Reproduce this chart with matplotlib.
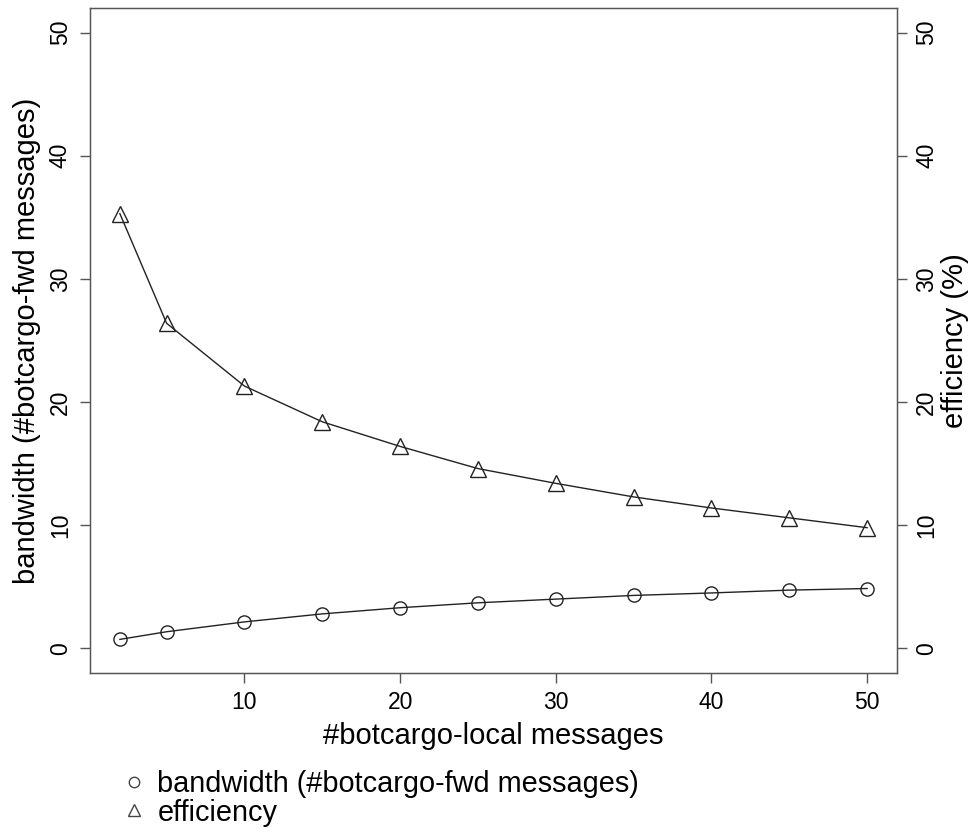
import matplotlib.pyplot as plt
from matplotlib.lines import Line2D

# dados
mensagens_local = [2, 5, 10, 15, 20, 25, 30, 35, 40, 45, 50]
largura_banda = [0.73, 1.35, 2.15, 2.8, 3.3, 3.7, 4.0, 4.3, 4.5, 4.73, 4.86]
eficiencia = [35.3, 26.4, 21.3, 18.4, 16.4, 14.6, 13.4, 12.3, 11.4, 10.6, 9.8]

y_ticks = [0, 10, 20, 30, 40, 50]
x_ticks = [10, 20, 30, 40, 50]

plt.rcParams['font.family'] = ['Liberation Sans', 'DejaVu Sans']

fig = plt.figure(figsize=(9.74, 8.33), dpi=100)
ax = fig.add_axes([90 / 974, 1 - 673 / 833, (897 - 90) / 974, (673 - 8) / 833])

ax.plot(mensagens_local, largura_banda, color='#222222', lw=1, marker='o', ms=9.5,
        mfc='none', mec='#222222', mew=1)
ax.plot(mensagens_local, eficiencia, color='#222222', lw=1, marker='^', ms=11,
        mfc='none', mec='#222222', mew=1)

ax.set_xlim(2 - 0.04 * 48, 50 + 0.04 * 48)
ax.set_ylim(-2, 52)
ax.set_xticks(x_ticks)
ax.set_yticks(y_ticks)
ax.tick_params(axis='both', direction='out', length=7, width=1, color='#555555',
               labelsize=16.5, pad=6)
for lab in ax.get_yticklabels():
    lab.set_rotation(90)
    lab.set_va('center')
for s in ax.spines.values():
    s.set_color('#555555')
    s.set_linewidth(1)

ax.set_xlabel('#botcargo-local messages', fontsize=21, labelpad=6)
ax.set_ylabel('bandwidth (#botcargo-fwd messages)', fontsize=21, labelpad=6)

# eixo direito com a mesma escala
ax2 = ax.twinx()
ax2.set_ylim(-2, 52)
ax2.set_yticks(y_ticks)
ax2.tick_params(axis='y', direction='out', length=7, width=1, color='#555555',
                labelsize=16.5, pad=6)
for lab in ax2.get_yticklabels():
    lab.set_rotation(90)
    lab.set_va('center')
for s in ax2.spines.values():
    s.set_color('#555555')
ax2.set_ylabel('efficiency (%)', fontsize=21, labelpad=2)

handles = [
    Line2D([], [], ls='none', marker='o', ms=7.5, mfc='none', mec='#444444'),
    Line2D([], [], ls='none', marker='^', ms=8.5, mfc='none', mec='#444444'),
]
fig.legend(handles, ['bandwidth (#botcargo-fwd messages)', 'efficiency'],
           loc='upper left', bbox_to_anchor=(127 / 974, 1 - 770 / 833),
           frameon=False, fontsize=20.8, handletextpad=0.55, labelspacing=0.02,
           borderpad=0, borderaxespad=0, handlelength=0.5)

fig.savefig('out.png', dpi=100)
